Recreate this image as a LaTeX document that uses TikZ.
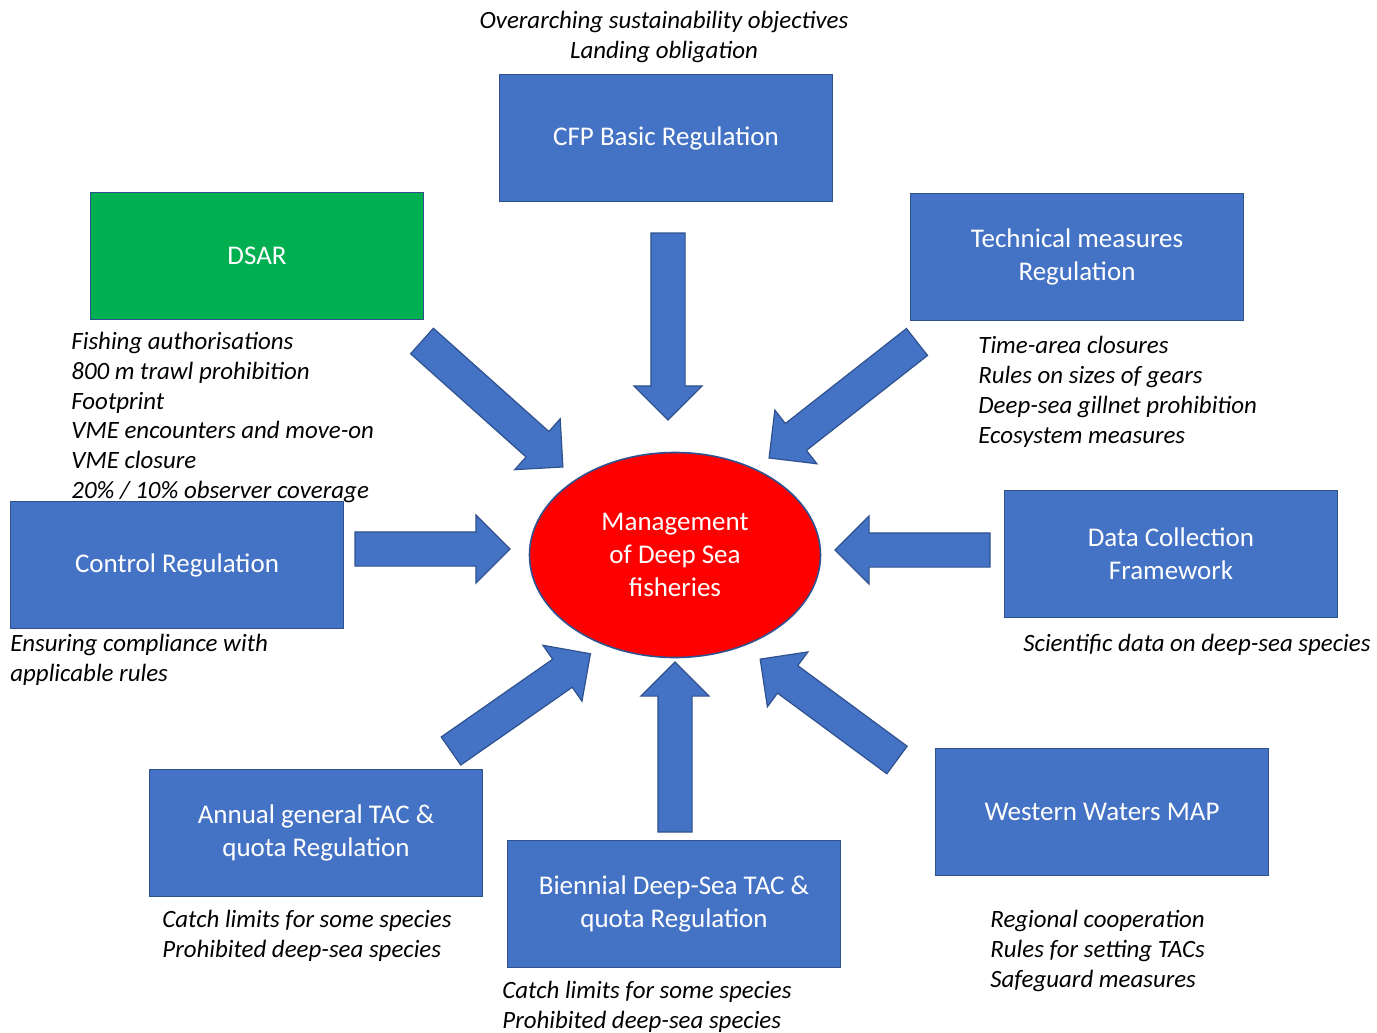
\documentclass[tikz,border=0pt]{standalone}
\usepackage{fontspec}
\setmainfont{Carlito}
\usetikzlibrary{shapes.geometric,shapes.arrows}

\definecolor{boxblue}{RGB}{68,114,196}
\definecolor{edgeblue}{RGB}{47,82,143}
\definecolor{dsargreen}{RGB}{0,176,80}

\tikzset{
  regbox/.style={draw=edgeblue, line width=0.8pt, fill=boxblue, text=white,
    minimum width=166.5pt, minimum height=63.5pt, align=center,
    font=\fontsize{13.5}{16.5}\selectfont},
  note/.style={align=left, inner sep=0pt, anchor=west,
    font=\fontsize{12.45}{14.9}\selectfont\itshape},
  fatarrow/.style={single arrow, draw=edgeblue, line width=0.6pt, fill=boxblue,
    inner xsep=0pt, inner ysep=8.25pt, outer sep=0pt,
    single arrow head extend=8.5pt, anchor=tail},
}

\begin{document}
\begin{tikzpicture}[x=0.5pt, y=-0.5pt]
\useasboundingbox (0,0) rectangle (1377,1033);

% Centre
\node[ellipse, draw=edgeblue, line width=0.8pt, fill=red, text=white,
  minimum width=145.5pt, minimum height=102.5pt, inner sep=0pt, align=center,
  font=\fontsize{13.5}{16.5}\selectfont] (mgmt) at (675,555)
  {Management\\of Deep Sea\\fisheries};

% Regulations
\node[regbox] (cfp) at (666,138) {CFP Basic Regulation};
\node[regbox, fill=dsargreen] (dsar) at (257,256) {DSAR};
\node[regbox] (tech) at (1077,257) {Technical measures\\Regulation};
\node[regbox] (ctrl) at (177,565) {Control Regulation};
\node[regbox] (dcf) at (1171,554) {Data Collection\\Framework};
\node[regbox] (tac) at (316,833) {Annual general TAC \&\\quota Regulation};
\node[regbox] (dstac) at (674,904) {Biennial Deep-Sea TAC \&\\quota Regulation};
\node[regbox] (ww) at (1102,812) {Western Waters MAP};

% Notes
\node[note, anchor=center, align=center] (cfpnote) at (664,37)
  {Overarching sustainability objectives\\Landing obligation};
\node[note] (dsarnote) at (71,417.5)
  {Fishing authorisations\\800 m trawl prohibition\\Footprint\\VME encounters and move-on\\VME closure\\20\% / 10\% observer coverage};
\node[note] (technote) at (978,392)
  {Time-area closures\\Rules on sizes of gears\\Deep-sea gillnet prohibition\\Ecosystem measures};
\node[note] (ctrlnote) at (10,660) {Ensuring compliance with\\applicable rules};
\node[note] (dcfnote) at (1023,645) {Scientific data on deep-sea species};
\node[note] (tacnote) at (162,936) {Catch limits for some species\\Prohibited deep-sea species};
\node[note] (dstacnote) at (502,1007) {Catch limits for some species\\Prohibited deep-sea species};
\node[note] (wwnote) at (990,951) {Regional cooperation\\Rules for setting TACs\\Safeguard measures};

% Arrows into the centre
\node[fatarrow, minimum height=93.5pt, rotate=-90] (acfp) at (668,233) {};
\node[fatarrow, minimum height=94.5pt, rotate=-41.8] (adsar) at (422,341) {};
\node[fatarrow, minimum height=94pt, rotate=-141.9] (atech) at (917,342) {};
\node[fatarrow, minimum height=77.5pt] (actrl) at (355,549) {};
\node[fatarrow, minimum height=77.5pt, rotate=180] (adcf) at (990,550) {};
\node[fatarrow, minimum height=85pt, rotate=34.9] (atac) at (451,751) {};
\node[fatarrow, minimum height=85pt, rotate=90] (adstac) at (675,832) {};
\node[fatarrow, minimum height=85pt, rotate=143.6] (aww) at (897,760) {};
\end{tikzpicture}
\end{document}
